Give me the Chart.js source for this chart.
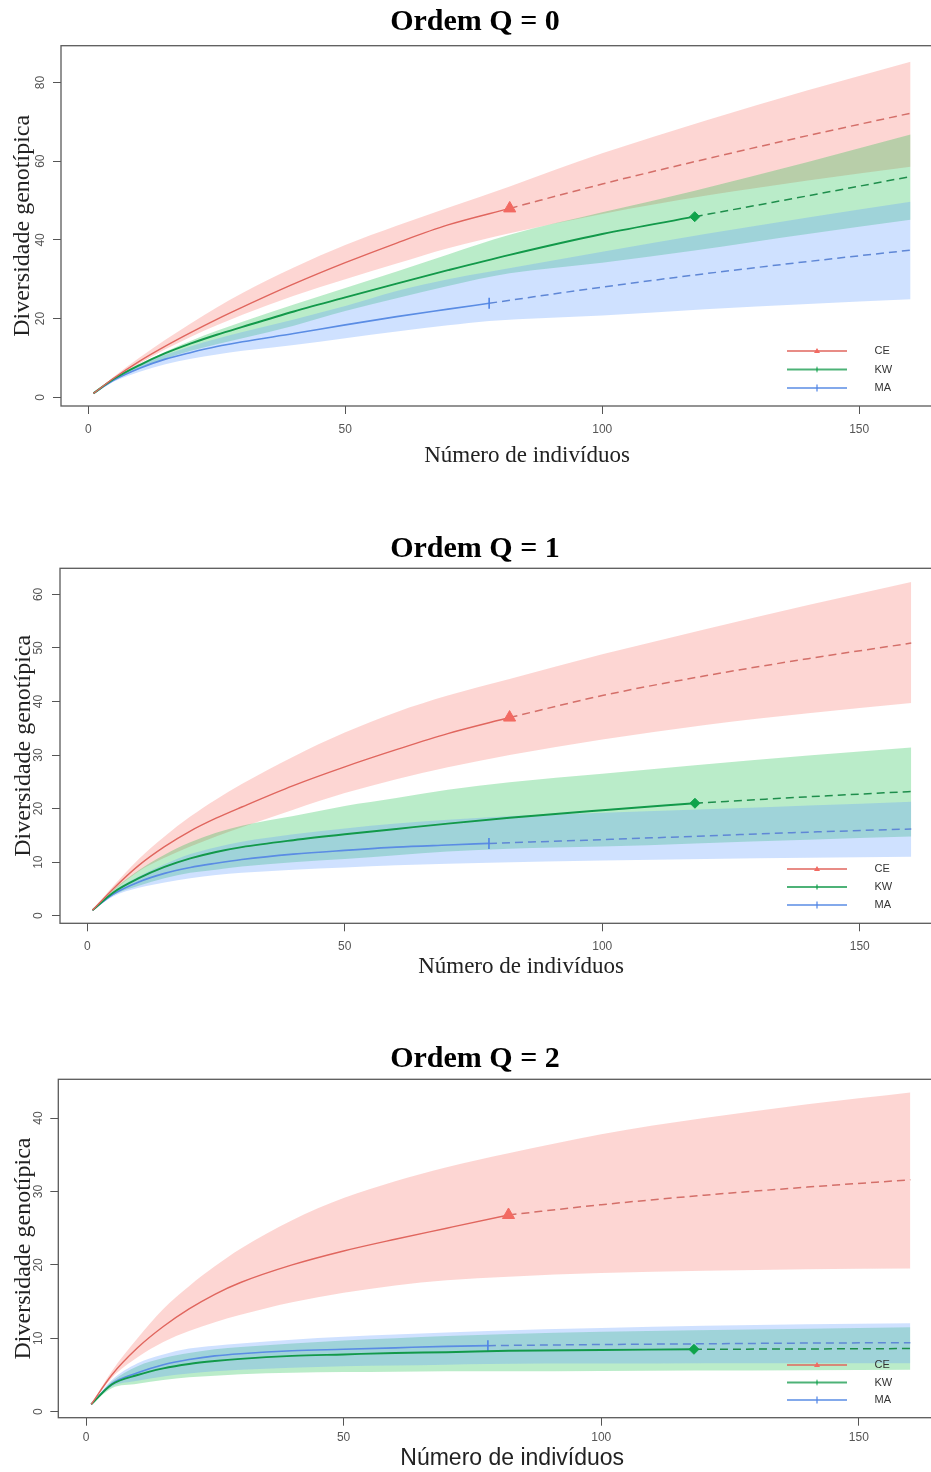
<!DOCTYPE html>
<html>
<head>
<meta charset="utf-8">
<script src="https://cdn.jsdelivr.net/npm/chart.js@4.4.1/dist/chart.umd.min.js"></script>
<style>
html, body { margin: 0; padding: 0; background: #ffffff; overflow: hidden; }
body { width: 931px; height: 1472px; position: relative; }
canvas { position: absolute; }
</style>
</head>
<body>
<canvas id="c0"></canvas>
<canvas id="c1"></canvas>
<canvas id="c2"></canvas>
<script>
// ---------------- DATA ----------------
const seriesNames = ['CE', 'KW', 'MA'];
const sampleSizes = [82, 118, 78];
const xCE = [1, 5, 10, 15, 20, 25, 30, 40, 50, 60, 70, 82, 100, 120, 140, 160];
const xKW = [1, 5, 10, 15, 20, 25, 30, 40, 50, 60, 70, 82, 100, 118, 140, 160];
const xMA = [1, 5, 10, 15, 20, 25, 30, 40, 50, 60, 70, 78, 100, 120, 140, 160];
const xTicks = [0, 50, 100, 150];

// Ordem Q = 0
const q0_CE_est = [1, 4.9, 9.2, 13.0, 16.5, 19.8, 22.9, 28.8, 34.2, 39.2, 43.8, 48.0, 54.2, 60.5, 66.5, 72.2];
const q0_CE_lo  = [1, 4.6, 8.6, 12.2, 15.4, 18.3, 21.0, 25.8, 30.0, 34.0, 37.9, 41.7, 46.6, 51.2, 55.1, 58.6];
const q0_CE_hi  = [1, 5.3, 10.1, 14.6, 18.8, 22.8, 26.5, 33.0, 38.7, 43.6, 48.2, 53.6, 62.0, 70.3, 78.0, 85.3];
const q0_KW_est = [1, 4.7, 8.2, 11.2, 13.7, 15.9, 17.9, 21.8, 25.4, 28.9, 32.3, 36.2, 41.5, 45.9, 51.2, 56.1];
const q0_KW_lo  = [1, 4.3, 7.3, 9.8, 11.8, 13.5, 15.0, 18.2, 21.9, 25.2, 28.3, 31.5, 34.2, 37.3, 41.5, 45.1];
const q0_KW_hi  = [1, 4.9, 8.5, 11.6, 14.4, 16.9, 19.2, 23.6, 27.8, 32.0, 36.3, 41.3, 47.0, 52.5, 59.8, 66.8];
const q0_MA_est = [1, 4.4, 7.4, 9.7, 11.4, 12.9, 14.1, 16.2, 18.4, 20.5, 22.4, 23.9, 28.0, 31.4, 34.5, 37.4];
const q0_MA_lo  = [1, 4.0, 6.5, 8.4, 9.8, 10.9, 11.8, 13.3, 15.0, 16.7, 18.3, 19.4, 20.8, 22.4, 23.7, 24.9];
const q0_MA_hi  = [1, 4.8, 8.2, 10.8, 13.0, 14.9, 16.6, 19.8, 23.2, 27.0, 30.0, 31.9, 37.0, 41.5, 45.7, 49.7];
const q0_yTicks = [0, 20, 40, 60, 80];

// Ordem Q = 1
const q1_CE_est = [1, 5.0, 9.4, 12.9, 15.8, 18.2, 20.3, 24.3, 27.8, 31.0, 34.0, 37.0, 41.1, 44.8, 48.0, 50.9];
const q1_CE_lo  = [1, 4.6, 8.3, 10.8, 12.9, 14.8, 16.5, 19.8, 22.9, 25.5, 27.7, 30.0, 32.9, 35.6, 37.8, 39.7];
const q1_CE_hi  = [1, 5.5, 10.6, 14.8, 18.5, 21.7, 24.6, 29.7, 34.2, 38.0, 41.1, 44.2, 48.8, 53.5, 58.0, 62.3];
const q1_KW_est = [1, 4.3, 7.0, 9.1, 10.7, 11.9, 12.8, 14.1, 15.2, 16.2, 17.2, 18.3, 19.7, 21.0, 22.2, 23.2];
const q1_KW_lo  = [1, 3.8, 5.6, 7.0, 8.0, 8.6, 9.2, 10.0, 10.6, 11.3, 12.0, 12.5, 12.9, 13.5, 14.2, 14.8];
const q1_KW_hi  = [1, 4.8, 8.5, 11.4, 13.7, 15.5, 16.8, 18.6, 20.5, 22.0, 23.5, 24.9, 26.5, 28.1, 29.9, 31.4];
const q1_MA_est = [1, 4.0, 6.3, 7.9, 9.0, 9.8, 10.5, 11.5, 12.2, 12.8, 13.2, 13.5, 14.2, 14.9, 15.6, 16.2];
const q1_MA_lo  = [1, 3.6, 5.2, 6.2, 7.0, 7.6, 8.0, 8.6, 9.0, 9.4, 9.7, 9.9, 10.3, 10.6, 10.8, 11.0];
const q1_MA_hi  = [1, 4.5, 7.3, 9.6, 11.5, 12.8, 13.8, 15.2, 16.3, 17.2, 17.9, 18.4, 19.2, 19.9, 20.6, 21.3];
const q1_yTicks = [0, 10, 20, 30, 40, 50, 60];

// Ordem Q = 2
const q2_CE_est = [1, 5.0, 8.7, 11.6, 14.0, 16.0, 17.6, 20.0, 21.9, 23.5, 25.0, 26.8, 28.2, 29.5, 30.6, 31.6];
const q2_CE_lo  = [1, 4.6, 7.4, 9.5, 11.0, 12.2, 13.2, 14.9, 16.2, 17.2, 17.9, 18.4, 18.9, 19.2, 19.4, 19.5];
const q2_CE_hi  = [1, 5.5, 10.0, 14.0, 17.1, 19.8, 22.2, 26.1, 29.1, 31.4, 33.3, 35.2, 37.8, 40.0, 41.9, 43.5];
const q2_KW_est = [1, 3.7, 5.0, 5.9, 6.5, 6.9, 7.2, 7.6, 7.8, 8.0, 8.1, 8.3, 8.4, 8.5, 8.55, 8.6];
const q2_KW_lo  = [1, 3.2, 3.8, 4.3, 4.7, 4.9, 5.1, 5.3, 5.4, 5.45, 5.5, 5.5, 5.55, 5.6, 5.65, 5.7];
const q2_KW_hi  = [1, 4.1, 6.2, 7.3, 8.0, 8.5, 8.8, 9.3, 9.7, 10.0, 10.3, 10.6, 10.9, 11.1, 11.3, 11.5];
const q2_MA_est = [1, 3.8, 5.3, 6.4, 7.1, 7.6, 7.9, 8.3, 8.5, 8.7, 8.9, 9.0, 9.15, 9.25, 9.35, 9.4];
const q2_MA_lo  = [1, 3.4, 4.2, 4.8, 5.2, 5.5, 5.7, 6.0, 6.2, 6.3, 6.4, 6.5, 6.55, 6.6, 6.6, 6.6];
const q2_MA_hi  = [1, 4.3, 6.6, 7.8, 8.6, 9.0, 9.3, 9.8, 10.2, 10.5, 10.8, 11.0, 11.4, 11.7, 11.9, 12.05];
const q2_yTicks = [0, 10, 20, 30, 40];

// ---------------- STYLE ----------------
const lineColors   = ['#E0665E', '#12994A', '#5A8CE4'];
const dashColors   = ['#D46F69', '#1E8E4C', '#5F87D6'];
const markerColors = ['#F26A62', '#0FA34A', '#4F84E6'];
const bandColors   = ['rgba(248,118,109,0.30)', 'rgba(0,186,56,0.27)', 'rgba(97,156,255,0.30)'];
const lineWidths   = [1.4, 1.9, 1.6];
const markerStyles = ['triangle', 'rectRot', 'line'];
const markerRadius = [7, 5, 5.5];

const xs = [xCE, xKW, xMA];
const panels = [
  { title: 'Ordem Q = 0', est: [q0_CE_est, q0_KW_est, q0_MA_est], lo: [q0_CE_lo, q0_KW_lo, q0_MA_lo], hi: [q0_CE_hi, q0_KW_hi, q0_MA_hi], yTicks: q0_yTicks,
    yMin: -2.21, yMax: 89.35, xMin: -5.31, xMax: 176.04,
    left: -51, top: 0, width: 1052, height: 470, yW: 112, xH: 64, titlePadB: 8.7,
    yTitlePad: 59.6, yTickPad: 5.3, xTickPad: 8.8, xTitlePad: 0, xTitleFont: 'Liberation Serif',
    legPad: 7.5, legBottom: 401 },
  { title: 'Ordem Q = 1', est: [q1_CE_est, q1_KW_est, q1_MA_est], lo: [q1_CE_lo, q1_KW_lo, q1_MA_lo], hi: [q1_CE_hi, q1_KW_hi, q1_MA_hi], yTicks: q1_yTicks,
    yMin: -1.42, yMax: 64.87, xMin: -5.30, xMax: 173.74,
    left: -40, top: 527, width: 1030, height: 458, yW: 100, xH: 61.7, titlePadB: 4.3,
    yTitlePad: 49.6, yTickPad: 6.3, xTickPad: 8.2, xTitlePad: 4, xTitleFont: 'Liberation Serif',
    legPad: 7, legBottom: 390.5 },
  { title: 'Ordem Q = 2', est: [q2_CE_est, q2_KW_est, q2_MA_est], lo: [q2_CE_lo, q2_KW_lo, q2_MA_lo], hi: [q2_CE_hi, q2_KW_hi, q2_MA_hi], yTicks: q2_yTicks,
    yMin: -0.82, yMax: 45.29, xMin: -5.38, xMax: 170.8,
    left: -24, top: 1037, width: 998, height: 435, yW: 82.3, xH: 54.3, titlePadB: 5.3,
    yTitlePad: 32.9, yTickPad: 5.3, xTickPad: 5.1, xTitlePad: 0, xTitleFont: 'Liberation Sans',
    legPad: 6.5, legBottom: 375 }
];

function pts(xv, yv, pred) {
  return xv.map((x, k) => ({ x: x, y: yv[k] })).filter(p => pred(p.x));
}

function makeIcon(i) {
  const c = document.createElement('canvas');
  c.width = 82; c.height = 10;
  const g = c.getContext('2d');
  g.strokeStyle = lineColors[i]; g.lineWidth = 1.6;
  g.beginPath(); g.moveTo(0, 5); g.lineTo(60, 5); g.stroke();
  g.fillStyle = markerColors[i]; g.strokeStyle = markerColors[i]; g.lineWidth = 1.2;
  g.beginPath();
  if (i === 0) { g.moveTo(30, 2); g.lineTo(33, 7); g.lineTo(27, 7); g.closePath(); g.fill(); }
  else if (i === 1) { g.moveTo(30, 2.5); g.lineTo(30, 7.5); g.stroke(); }
  else { g.moveTo(30, 1.5); g.lineTo(30, 8.5); g.stroke(); }
  return c;
}
const icons = seriesNames.map((_, i) => makeIcon(i));

const frameBox = {
  id: 'frameBox',
  beforeLayout(chart) {
    const lg = chart.legend;
    if (lg && !lg._zPatched) {
      lg._layers = () => [{ z: 1, draw: (a) => lg.draw(a) }];
      lg._zPatched = true;
    }
  },
  afterLayout(chart, args, opts) {
    const lg = chart.legend;
    if (lg) {
      lg.left = opts.legendLeft; lg.right = opts.legendLeft + 220; lg.width = 220;
      lg.top = chart.chartArea.top; lg.bottom = opts.legendBottom;
      lg.height = lg.bottom - lg.top;
    }
  },
  afterDraw(chart) {
    const { ctx, chartArea: a } = chart;
    ctx.save();
    ctx.strokeStyle = '#5a5a5a';
    ctx.lineWidth = 1.3;
    ctx.strokeRect(a.left, a.top, a.right - a.left, a.bottom - a.top);
    ctx.restore();
  }
};

const tickFont = { family: 'Liberation Sans', size: 12 };

panels.forEach((P, pi) => {
  const cv = document.getElementById('c' + pi);
  cv.width = P.width; cv.height = P.height;
  cv.style.left = P.left + 'px'; cv.style.top = P.top + 'px';
  cv.style.width = P.width + 'px'; cv.style.height = P.height + 'px';

  const datasets = [];
  // confidence bands
  seriesNames.forEach((name, i) => {
    const common = { borderColor: 'transparent', borderWidth: 0, pointRadius: 0, cubicInterpolationMode: 'monotone', order: 3 - i };
    datasets.push(Object.assign({ label: name + ' sup', data: pts(xs[i], P.hi[i], () => true), fill: '+1', backgroundColor: bandColors[i] }, common));
    datasets.push(Object.assign({ label: name + ' inf', data: pts(xs[i], P.lo[i], () => true), fill: false, backgroundColor: bandColors[i] }, common));
  });
  // interpolated (solid) lines with marker at observed sample
  seriesNames.forEach((name, i) => {
    const n = sampleSizes[i];
    const d = pts(xs[i], P.est[i], x => x <= n);
    datasets.push({
      label: name, data: d, fill: false, order: 0,
      borderColor: lineColors[i], borderWidth: lineWidths[i], cubicInterpolationMode: 'monotone',
      pointStyle: markerStyles[i], pointRotation: i === 2 ? 90 : 0,
      pointRadius: (c) => c.dataIndex === d.length - 1 ? markerRadius[i] : 0,
      pointBackgroundColor: markerColors[i], pointBorderColor: markerColors[i],
      pointBorderWidth: i === 2 ? 1.6 : 1
    });
  });
  // extrapolated (dashed) lines
  seriesNames.forEach((name, i) => {
    const n = sampleSizes[i];
    datasets.push({
      label: name + ' extrap', data: pts(xs[i], P.est[i], x => x >= n), fill: false, order: 0,
      borderColor: dashColors[i], borderWidth: 1.5, borderDash: [8, 5], pointRadius: 0,
      cubicInterpolationMode: 'monotone'
    });
  });

  new Chart(cv, {
    type: 'line',
    data: { datasets },
    plugins: [frameBox],
    options: {
      responsive: false,
      animation: false,
      events: [],
      layout: { padding: 0 },
      plugins: {
        tooltip: { enabled: false },
        title: {
          display: true, text: P.title, color: '#000',
          font: { family: 'Liberation Serif', size: 30, weight: 'bold', lineHeight: 1 },
          padding: { top: 7, bottom: P.titlePadB }
        },
        legend: {
          display: true, position: 'chartArea', align: 'end',
          labels: {
            usePointStyle: true, pointStyleWidth: 82, boxHeight: 11,
            padding: P.legPad, color: '#333',
            font: { family: 'Liberation Sans', size: 11 },
            generateLabels: () => seriesNames.map((n, i) => ({
              text: n, pointStyle: icons[i], fillStyle: 'transparent', strokeStyle: 'transparent',
              lineWidth: 0, hidden: false, datasetIndex: 6 + i, fontColor: '#333'
            }))
          }
        },
        frameBox: { legendLeft: 787 - P.left - P.legPad, legendBottom: P.legBottom }
      },
      scales: {
        x: {
          type: 'linear', min: P.xMin, max: P.xMax,
          afterBuildTicks: (s) => { s.ticks = xTicks.map(v => ({ value: v })); },
          afterFit: (s) => { s.height = P.xH; },
          grid: { drawOnChartArea: false, drawTicks: true, tickLength: 8, tickColor: '#555', tickWidth: 1 },
          border: { display: false },
          ticks: { color: '#555', font: tickFont, padding: P.xTickPad, maxRotation: 0, autoSkip: false },
          title: {
            display: true, text: 'Número de indivíduos', color: '#222',
            font: { family: P.xTitleFont, size: 23, lineHeight: 1.2 },
            padding: { top: 0, bottom: P.xTitlePad }
          }
        },
        y: {
          type: 'linear', min: P.yMin, max: P.yMax,
          afterBuildTicks: (s) => { s.ticks = P.yTicks.map(v => ({ value: v })); },
          afterFit: (s) => { s.width = P.yW; },
          grid: { drawOnChartArea: false, drawTicks: true, tickLength: 8, tickColor: '#555', tickWidth: 1 },
          border: { display: false },
          ticks: { color: '#555', font: tickFont, padding: P.yTickPad, minRotation: 90, maxRotation: 90, crossAlign: 'center', autoSkip: false },
          title: {
            display: true, text: 'Diversidade genotípica', color: '#222',
            font: { family: 'Liberation Serif', size: 24, lineHeight: 1.2 },
            padding: { top: P.yTitlePad, bottom: 0 }
          }
        }
      }
    }
  });
});
</script>
</body>
</html>
